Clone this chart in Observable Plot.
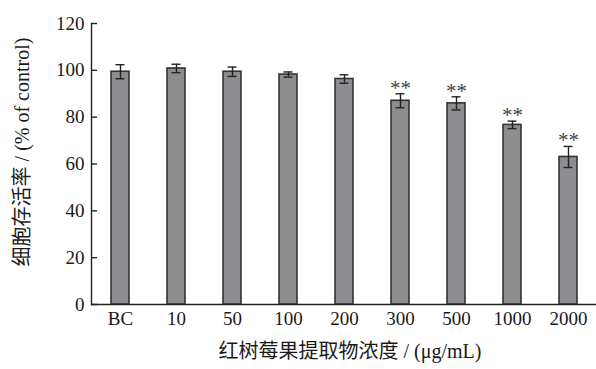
<!DOCTYPE html>
<html>
<head>
<meta charset="utf-8">
<script src="https://cdn.jsdelivr.net/npm/d3@7"></script>
<script src="https://cdn.jsdelivr.net/npm/@observablehq/plot@0.6"></script>
<style>
  body { margin: 0; background: #fff; }
  svg { font-family: "Liberation Serif", "Noto Sans CJK SC", serif; }
</style>
</head>
<body>
<div id="chart"></div>
<script>
// Extract concentration groups (μg/mL); BC = blank control
const groups = ["BC", "10", "50", "100", "200", "300", "500", "1000", "2000"];
// Cell viability, % of control (mean and SD)
const viability = [99.4, 100.8, 99.4, 98.2, 96.3, 87.0, 85.9, 76.7, 63.0];
const sd = [3.0, 1.8, 2.0, 1.1, 1.8, 3.0, 2.8, 1.6, 4.5];
// Significance markers
const marks = ["", "", "", "", "", "**", "**", "**", "**"];
const yTicks = [0, 20, 40, 60, 80, 100, 120];

const data = groups.map((g, i) => ({
  group: g,
  value: viability[i],
  lo: viability[i] - sd[i],
  hi: viability[i] + sd[i],
  sig: marks[i]
}));

const plot = Plot.plot({
  width: 596,
  height: 369,
  marginLeft: 91,
  marginRight: 0,
  marginTop: 23,
  marginBottom: 65,
  style: { fontSize: "19px", fontFamily: "'Liberation Serif', 'Noto Sans CJK SC', serif", color: "#1a1a1a" },
  x: { domain: groups, paddingInner: 0.68, paddingOuter: 0.34, label: null },
  y: { domain: [0, 120], label: null },
  marks: [
    Plot.barY(data, { x: "group", y: "value", fill: "#8d8d90", stroke: "#333", strokeWidth: 1.6 }),
    Plot.ruleX(data, { x: "group", y1: "lo", y2: "hi", stroke: "#222", strokeWidth: 1.4 }),
    Plot.tickY(data, { x: "group", y: "hi", stroke: "#222", strokeWidth: 1.4, insetLeft: 4.5, insetRight: 4.5 }),
    Plot.tickY(data, { x: "group", y: "lo", stroke: "#222", strokeWidth: 1.4, insetLeft: 4.5, insetRight: 4.5 }),
    Plot.text(data.filter(d => d.sig), { x: "group", y: "hi", text: "sig", dy: 1, lineAnchor: "bottom", fontSize: 21, fill: "#444" }),
    // inward-pointing ticks on the value axis
    Plot.axisY({ ticks: yTicks, tickSize: -6, tickFormat: () => "", stroke: "#222", strokeWidth: 1.4, label: null }),
    Plot.axisY({ ticks: yTicks, tickSize: 0, tickPadding: 7, fill: "#1a1a1a", label: null }),
    Plot.axisX({ tickSize: 0, tickPadding: 7, fill: "#1a1a1a", label: null }),
    Plot.ruleY([0], { stroke: "#222", strokeWidth: 1.4 }),
    Plot.frame({ anchor: "left", stroke: "#222", strokeWidth: 1.4 }),
    Plot.text(["红树莓果提取物浓度 / (μg/mL)"], { frameAnchor: "bottom", dx: 6, dy: 53, fontSize: 20, fill: "#1a1a1a" }),
    Plot.text(["细胞存活率 / (% of control)"], { frameAnchor: "left", textAnchor: "middle", dx: -69, dy: -12, rotate: -90, fontSize: 20, fill: "#1a1a1a" })
  ]
});

document.getElementById("chart").appendChild(plot);
</script>
</body>
</html>
